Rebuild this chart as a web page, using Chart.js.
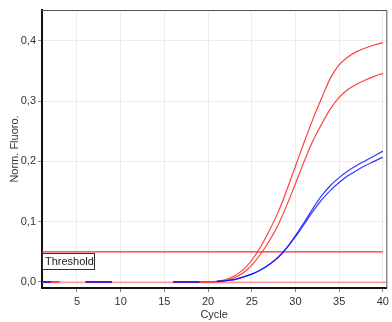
<!DOCTYPE html>
<html>
<head>
<meta charset="utf-8">
<script src="https://cdn.jsdelivr.net/npm/chart.js@4.4.0/dist/chart.umd.min.js"></script>
<style>
  body { margin: 0; background: #fff; }
</style>
</head>
<body>
<canvas id="chart" width="392" height="322"></canvas>
<script>
// cycles 1..40, null = no trace drawn at that cycle
const cycles = [1,2,3,4,5,6,7,8,9,10,11,12,13,14,15,16,17,18,19,20,21,22,23,24,25,26,27,28,29,30,31,32,33,34,35,36,37,38,39,40]
const redA = [0,0,0,null,null,0,0,0,0,null,null,null,null,null,null,0,0,0,0,0,
	0.001,0.004,0.010,0.020,0.036,0.058,0.085,0.115,0.152,0.192,0.232,0.270,0.305,0.338,0.360,0.373,0.382,0.388,0.393,0.397]
const redB = [0,0,0,null,null,0,0,0,0,null,null,null,null,null,null,0,0,0,0,0,
	0,0.002,0.007,0.015,0.028,0.046,0.068,0.094,0.127,0.163,0.200,0.234,0.262,0.287,0.306,0.319,0.328,0.335,0.341,0.346]
const blueA = [0,0,null,null,null,0,0,0,0,null,null,null,null,null,null,0,0,0,0,null,
	0.001,0.002,0.004,0.008,0.013,0.020,0.029,0.041,0.057,0.077,0.099,0.122,0.143,0.160,0.173,0.184,0.193,0.201,0.209,0.217]
const blueB = [0,0,null,null,null,0,0,0,0,null,null,null,null,null,null,0,0,0,0,null,
	0.001,0.002,0.004,0.008,0.013,0.020,0.029,0.040,0.056,0.075,0.096,0.117,0.136,0.152,0.165,0.176,0.185,0.193,0.200,0.207]
const threshold = 0.05
const xTicks = [5,10,15,20,25,30,35,40]
const yTicks = [0,0.1,0.2,0.3,0.4]

const pts = arr => cycles.map((c, i) => ({x: c, y: arr[i]}))
const fmt = v => v.toFixed(1).replace('.', ',')

const RED = 'rgba(255,30,30,0.85)'
const BLUE = 'rgba(20,20,255,0.85)'

// thin frame on top and right, pale zero line, threshold label box
const framePlugin = {
	id: 'frame',
	beforeDatasetsDraw(chart) {
		const {ctx, chartArea: a, scales} = chart
		ctx.save()
		ctx.strokeStyle = '#555'
		ctx.lineWidth = 1
		ctx.beginPath()
		ctx.moveTo(a.left, a.top + 0.5)
		ctx.lineTo(a.right + 0.5, a.top + 0.5)
		ctx.lineTo(a.right + 0.5, a.bottom)
		ctx.stroke()
		const y0 = Math.round(scales.y.getPixelForValue(0)) + 0.5
		ctx.strokeStyle = 'rgba(255,90,90,0.6)'
		ctx.lineWidth = 1.5
		ctx.beginPath()
		ctx.moveTo(a.left, y0)
		ctx.lineTo(a.right, y0)
		ctx.stroke()
		ctx.restore()
	},
	afterDatasetsDraw(chart) {
		const {ctx, chartArea: a, scales} = chart
		const y = Math.round(scales.y.getPixelForValue(threshold)) + 1
		ctx.save()
		ctx.fillStyle = '#fff'
		ctx.fillRect(a.left, y, 53, 17)
		ctx.strokeStyle = '#333'
		ctx.lineWidth = 1
		ctx.strokeRect(a.left + 0.5, y + 0.5, 52, 16)
		ctx.fillStyle = '#222'
		ctx.font = '11px "Liberation Sans", Arial, sans-serif'
		ctx.textBaseline = 'middle'
		ctx.fillText('Threshold', a.left + 3, y + 9)
		ctx.restore()
	}
}

const tickFont = {family: '"Liberation Sans", Arial, sans-serif', size: 11}

new Chart(document.getElementById('chart'), {
	type: 'line',
	data: {
		datasets: [
			{label: 'blue 1', data: pts(blueA), borderColor: BLUE, order: 1},
			{label: 'blue 2', data: pts(blueB), borderColor: BLUE, order: 1},
			{label: 'red 1', data: pts(redA), borderColor: RED, order: 2},
			{label: 'red 2', data: pts(redB), borderColor: RED, order: 2},
			{label: 'Threshold', data: [{x: cycles[0], y: threshold}, {x: cycles[cycles.length - 1], y: threshold}],
				borderColor: 'rgb(255,40,40)', order: 3, tension: 0}
		]
	},
	options: {
		responsive: false,
		animation: false,
		layout: {padding: {top: 10, right: 3, left: 0, bottom: 0}},
		elements: {
			point: {radius: 0},
			line: {borderWidth: 1.2, tension: 0.4, cubicInterpolationMode: 'monotone', fill: false}
		},
		plugins: {legend: {display: false}, tooltip: {enabled: false}},
		scales: {
			x: {
				type: 'linear',
				min: 1,
				max: 40.4,
				afterBuildTicks: s => { s.ticks = xTicks.map(v => ({value: v})) },
				afterFit: s => { s.height = 34 },
				grid: {color: '#ebebeb', tickColor: '#888', tickLength: 4},
				border: {color: '#111', width: 2},
				ticks: {color: '#333', font: tickFont, padding: 3, maxRotation: 0},
				title: {display: true, text: 'Cycle', color: '#333', font: tickFont, padding: {top: 0, bottom: 0}}
			},
			y: {
				min: -0.01,
				max: 0.451,
				afterBuildTicks: s => { s.ticks = yTicks.map(v => ({value: v})) },
				afterFit: s => { s.width = 42 },
				grid: {color: '#ebebeb', tickColor: '#888', tickLength: 4},
				border: {color: '#111', width: 2},
				ticks: {color: '#333', font: tickFont, padding: 2, callback: v => fmt(v)},
				title: {display: true, text: 'Norm. Fluoro.', color: '#333', font: tickFont, padding: {top: 8, bottom: 0}}
			}
		}
	},
	plugins: [framePlugin]
})
</script>
</body>
</html>
